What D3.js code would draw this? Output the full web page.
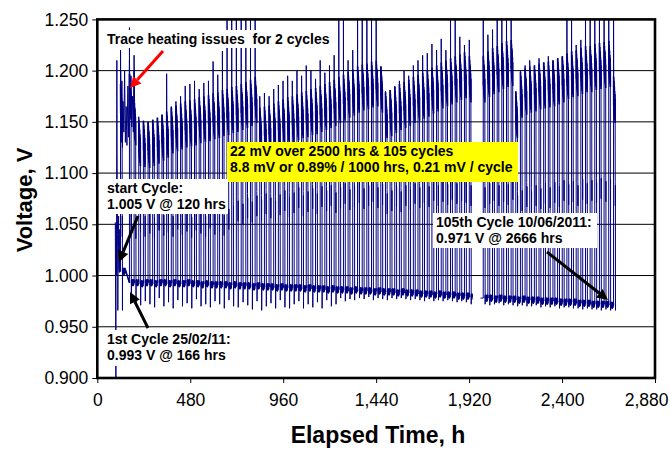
<!DOCTYPE html>
<html>
<head>
<meta charset="utf-8">
<script src="https://cdn.jsdelivr.net/npm/d3@7"></script>
<style>
  body { margin: 0; background: #fff; }
  svg { display: block; font-family: Arial, "Liberation Sans", sans-serif; }
</style>
</head>
<body>
<div id="chart"></div>
<script>
const width = 670, height = 449;

// axis ticks
const yTicks = [0.9, 0.95, 1.0, 1.05, 1.1, 1.15, 1.2, 1.25];
const xTicks = [0, 480, 960, 1440, 1920, 2400, 2880];

// trace before the first cycle (hours, volts)
const startTrace = [[93, 1.052], [95, 0.948], [96, 0.90], [97, 1.05], [99, 1.0], [101, 1.21],
  [102, 1.12], [104, 1.055], [105, 1.04], [106, 0.966], [108, 1.05], [109, 1.03], [110, 1.058],
  [111, 1.006], [114, 1.003], [116, 1.045], [117, 1.004], [118, 1.005]];

// erratic upper trace during the two cycles with trace-heating issues
const heatingTrace = [[121, 1.2], [124, 1.13], [127, 1.19], [130, 1.125], [133, 1.17], [137, 1.14],
  [141, 1.2], [145, 1.13], [149, 1.165], [153, 1.127], [158, 1.185], [162, 1.135], [166, 1.21],
  [170, 1.16], [174, 1.195], [178, 1.145], [182, 1.175], [186, 1.14], [190, 1.2], [193, 1.15], [196, 1.135]];

// one entry per daily cycle (cycles 75-76 fall in the data gap)
const cycleHours = [120, 166, 190, 214, 238, 262, 286, 310, 334, 358,
  382, 406, 430, 454, 478, 502, 526, 550, 574, 598,
  622, 646, 670, 694, 718, 743, 767, 791, 815, 839,
  863, 887, 911, 935, 959, 983, 1007, 1031, 1055, 1079,
  1103, 1127, 1151, 1175, 1199, 1223, 1247, 1271, 1295, 1319,
  1344, 1368, 1392, 1416, 1440, 1464, 1488, 1512, 1536, 1560,
  1584, 1608, 1632, 1656, 1680, 1704, 1728, 1752, 1776, 1800,
  1824, 1848, 1872, 1896, 1921,
  1993, 2017, 2041, 2065, 2089, 2113, 2137, 2161, 2185, 2209,
  2233, 2257, 2281, 2305, 2329, 2353, 2377, 2401, 2425, 2449,
  2473, 2497, 2521, 2545, 2569, 2593, 2617, 2641, 2666];

// upper plateau level of each cycle
const cycleHigh = [1.165, 1.175, 1.15, 1.13, 1.129, 1.128, 1.13, 1.132, 1.135, 1.138,
  1.142, 1.144, 1.146, 1.148, 1.149, 1.15, 1.152, 1.153, 1.154, 1.156,
  1.157, 1.159, 1.16, 1.162, 1.163, 1.165, 1.167, 1.169, 1.172, 1.142,
  1.143, 1.144, 1.146, 1.148, 1.15, 1.152, 1.153, 1.155, 1.157, 1.158,
  1.16, 1.161, 1.163, 1.165, 1.167, 1.169, 1.172, 1.174, 1.177, 1.179,
  1.182, 1.184, 1.185, 1.187, 1.188, 1.182, 1.157, 1.159, 1.162, 1.165,
  1.167, 1.169, 1.172, 1.174, 1.176, 1.178, 1.181, 1.183, 1.186, 1.188,
  1.19, 1.192, 1.194, 1.196, 1.192,
  1.192, 1.197, 1.2, 1.202, 1.205, 1.207, 1.208, 1.157, 1.177, 1.18,
  1.182, 1.183, 1.185, 1.186, 1.187, 1.188, 1.19, 1.192, 1.195, 1.197,
  1.198, 1.2, 1.202, 1.202, 1.204, 1.205, 1.206, 1.207, 1.172];

// spike reached when the cycle steps up (values above 1.25 run off the plot)
const cyclePeak = [1.22, 1.242, 1.215, 1.155, 1.15, 1.145, 1.148, 1.15, 1.155, 1.197,
  1.165, 1.17, 1.175, 1.185, 1.187, 1.19, 1.182, 1.188, 1.19, 1.209,
  1.196, 1.219, 1.27, 1.27, 1.27, 1.27, 1.27, 1.27, 1.27, 1.175,
  1.178, 1.175, 1.182, 1.186, 1.19, 1.195, 1.19, 1.2, 1.195, 1.205,
  1.2, 1.192, 1.21, 1.198, 1.205, 1.215, 1.27, 1.27, 1.21, 1.22,
  1.27, 1.27, 1.27, 1.27, 1.27, 1.204, 1.18, 1.178, 1.185, 1.19,
  1.2, 1.195, 1.205, 1.21, 1.215, 1.217, 1.226, 1.22, 1.231, 1.22,
  1.27, 1.27, 1.233, 1.225, 1.23,
  1.27, 1.235, 1.24, 1.27, 1.27, 1.27, 1.27, 1.18, 1.2, 1.205,
  1.21, 1.2, 1.212, 1.205, 1.214, 1.21, 1.208, 1.212, 1.27, 1.27,
  1.225, 1.23, 1.27, 1.27, 1.27, 1.27, 1.27, 1.27, 1.27];

// short hold part-way down after the upper plateau
const cycleMid = [1.05, 1.052, 1.048, 1.055, 1.05, 1.053, 1.049, 1.056, 1.051, 1.054,
  1.05, 1.057, 1.052, 1.055, 1.049, 1.056, 1.053, 1.05, 1.058, 1.052,
  1.055, 1.051, 1.057, 1.06, 1.065, 1.062, 1.068, 1.064, 1.07, 1.066,
  1.072, 1.068, 1.065, 1.071, 1.075, 1.069, 1.073, 1.078, 1.07, 1.074,
  1.077, 1.072, 1.079, 1.075, 1.08, 1.073, 1.078, 1.082, 1.076, 1.079,
  1.083, 1.077, 1.08, 1.084, 1.078, 1.081, 1.072, 1.075, 1.079, 1.074,
  1.08, 1.076, 1.082, 1.078, 1.083, 1.079, 1.085, 1.08, 1.084, 1.081,
  1.086, 1.082, 1.085, 1.083, 1.08,
  1.078, 1.082, 1.085, 1.08, 1.084, 1.081, 1.086, 1.07, 1.075, 1.079,
  1.074, 1.08, 1.077, 1.082, 1.078, 1.083, 1.079, 1.085, 1.081, 1.084,
  1.08, 1.086, 1.082, 1.085, 1.083, 1.087, 1.084, 1.086, 1.08];

// lower (base) level of each cycle
const cycleLow = [1.004, 0.993, 0.993, 0.992, 0.993, 0.993, 0.992, 0.993, 0.993, 0.992,
  0.993, 0.992, 0.992, 0.993, 0.992, 0.992, 0.991, 0.992, 0.991, 0.991,
  0.991, 0.991, 0.990, 0.991, 0.990, 0.990, 0.990, 0.989, 0.990, 0.989,
  0.989, 0.989, 0.988, 0.989, 0.988, 0.988, 0.988, 0.988, 0.987, 0.988,
  0.987, 0.987, 0.987, 0.986, 0.987, 0.986, 0.986, 0.986, 0.985, 0.986,
  0.985, 0.985, 0.985, 0.984, 0.985, 0.984, 0.984, 0.984, 0.983, 0.984,
  0.983, 0.983, 0.983, 0.982, 0.982, 0.982, 0.981, 0.982, 0.981, 0.981,
  0.981, 0.980, 0.980, 0.980, 0.979,
  0.978, 0.978, 0.977, 0.978, 0.977, 0.977, 0.977, 0.976, 0.977, 0.976,
  0.976, 0.976, 0.975, 0.975, 0.975, 0.975, 0.974, 0.974, 0.974, 0.974,
  0.973, 0.973, 0.973, 0.972, 0.972, 0.972, 0.972, 0.971, 0.971];

// short dip after the step down
const cycleDip = [0.966, 0.98, 0.972, 0.971, 0.975, 0.972, 0.969, 0.978, 0.97, 0.974,
  0.968, 0.976, 0.97, 0.973, 0.968, 0.977, 0.97, 0.972, 0.969, 0.975,
  0.972, 0.968, 0.976, 0.97, 0.969, 0.974, 0.971, 0.967, 0.975, 0.966,
  0.97, 0.973, 0.968, 0.976, 0.969, 0.968, 0.972, 0.975, 0.968, 0.972,
  0.969, 0.974, 0.968, 0.976, 0.97, 0.972, 0.978, 0.975, 0.977, 0.976,
  0.978, 0.977, 0.979, 0.976, 0.978, 0.977, 0.976, 0.978, 0.977, 0.978,
  0.977, 0.976, 0.977, 0.976, 0.975, 0.977, 0.975, 0.976, 0.975, 0.976,
  0.975, 0.974, 0.975, 0.974, 0.972,
  0.972, 0.971, 0.972, 0.973, 0.971, 0.972, 0.971, 0.97, 0.971, 0.97,
  0.97, 0.971, 0.969, 0.97, 0.969, 0.97, 0.968, 0.969, 0.969, 0.968,
  0.968, 0.967, 0.968, 0.967, 0.967, 0.966, 0.967, 0.966, 0.966];

// typical ripple on the upper plateau, the hold and the base line: [hours after step, volts]
const upperRipple = [[0.5, 0.022], [1.1, -0.006], [1.7, 0.018], [2.3, -0.01], [2.9, 0.014],
  [3.5, -0.014], [4.1, 0.012], [4.7, -0.016], [5.3, 0.008], [5.9, -0.018], [6.5, 0.005],
  [7.1, -0.02], [7.7, 0.0], [8.3, -0.023]];
const midRipple = [[8.7, 0.012], [9.1, -0.012], [9.5, 0.008]];
const lowerRipple = [[11, 0.0025], [12.5, -0.002], [14, 0.003], [15.5, -0.0025], [17, 0.002],
  [18.5, -0.003], [20, 0.0025], [21.5, -0.002], [23, 0.003]];
const stepDown = 9.9;
const dataGap = [1936, 1979];
const traceEnd = 2672;

const x = d3.scaleLinear().domain([0, 2880]).range([97.3, 655]);
const y = d3.scaleLinear().domain([0.9, 1.25]).range([378, 19.4]);

// assemble the trace; keep the plateau and base parts apart so they can be drawn heavier
const trace = startTrace.map(([t, v]) => ({t, v}));
const upperParts = [], lowerParts = [];
cycleHours.forEach((t, i) => {
  const low = cycleLow[i], high = cycleHigh[i], mid = cycleMid[i];
  const upper = upperRipple.map(([dt, dv]) => ({t: t + dt, v: high + dv}));
  trace.push({t, v: low}, {t, v: cyclePeak[i]}, ...upper);
  upperParts.push(upper);
  midRipple.forEach(([dt, dv]) => trace.push({t: t + dt, v: mid + dv}));
  trace.push({t: t + stepDown, v: cycleDip[i]});
  const next = i + 1 < cycleHours.length ? cycleHours[i + 1] : traceEnd;
  const gapHere = t < dataGap[0] && next > dataGap[0];
  const stop = gapHere ? dataGap[0] : next;
  const lower = [{t: t + stepDown + 0.5, v: low}];
  lowerRipple.forEach(([dt, dv]) => { if (t + dt < stop) lower.push({t: t + dt, v: low + dv}); });
  if (gapHere) lower.push({t: stop, v: low});
  else if (i + 1 < cycleHours.length) lower.push({t: next, v: cycleLow[i + 1]});
  trace.push(...lower);
  lowerParts.push(lower);
  if (gapHere) trace.push(null, {t: dataGap[1], v: cycleLow[i + 1]});
});

const svg = d3.select("#chart").append("svg")
    .attr("width", width)
    .attr("height", height);

svg.append("rect").attr("width", width).attr("height", height).attr("fill", "#fff");

svg.append("clipPath").attr("id", "plot")
  .append("rect")
    .attr("x", x(0)).attr("y", y(1.25))
    .attr("width", x(2880) - x(0)).attr("height", y(0.9) - y(1.25));

// gridlines
svg.append("g")
  .selectAll("line")
  .data(yTicks.slice(1, -1))
  .join("line")
    .attr("x1", x(0)).attr("x2", x(2880))
    .attr("y1", y).attr("y2", y)
    .attr("stroke", "#000")
    .attr("stroke-width", 1);

// voltage trace
const line = d3.line().defined(d => d !== null).x(d => x(d.t)).y(d => y(d.v));
const traceG = svg.append("g")
    .attr("clip-path", "url(#plot)")
    .attr("fill", "none")
    .attr("stroke", "#000080")
    .attr("stroke-linejoin", "round");

traceG.append("path").attr("stroke-width", 1).attr("d", line(trace));
traceG.append("path").attr("stroke-width", 1).attr("d", line(heatingTrace.map(([t, v]) => ({t, v}))));
traceG.append("g").attr("stroke-width", 1.7)
  .selectAll("path").data(upperParts).join("path").attr("d", line);
traceG.append("g").attr("stroke-width", 1.5)
  .selectAll("path").data(lowerParts).join("path").attr("d", line);

// axes
svg.append("g")
    .attr("transform", `translate(0,${y(0.9)})`)
    .call(d3.axisBottom(x).tickValues(xTicks).tickFormat(d3.format(",")).tickSize(5).tickPadding(11))
    .call(g => g.select(".domain").remove())
    .call(g => g.selectAll("text").attr("font-size", 17.5).attr("fill", "#000").attr("font-family", "Arial, 'Liberation Sans', sans-serif"))
    .call(g => g.selectAll(".tick:last-of-type text").attr("text-anchor", "end").attr("x", 13));

svg.append("g")
    .attr("transform", `translate(${x(0)},0)`)
    .call(d3.axisLeft(y).tickValues(yTicks).tickFormat(d3.format(".3f")).tickSize(5).tickPadding(4))
    .call(g => g.select(".domain").remove())
    .call(g => g.selectAll("text").attr("font-size", 17.5).attr("fill", "#000").attr("font-family", "Arial, 'Liberation Sans', sans-serif"));

// frame
svg.append("rect")
    .attr("x", x(0)).attr("y", y(1.25))
    .attr("width", x(2880) - x(0)).attr("height", y(0.9) - y(1.25))
    .attr("fill", "none").attr("stroke", "#000").attr("stroke-width", 2.6);

// axis titles
svg.append("text")
    .attr("x", 378).attr("y", 443)
    .attr("text-anchor", "middle")
    .attr("font-size", 23).attr("font-weight", "bold")
    .text("Elapsed Time, h");

svg.append("text")
    .attr("transform", "translate(32,200) rotate(-90)")
    .attr("text-anchor", "middle")
    .attr("font-size", 22).attr("font-weight", "bold")
    .text("Voltage, V");

// annotations
const notes = [
  {x: 104, y: 30, w: 229, h: 18, fill: "#fff", lines: ["Trace heating issues  for 2 cycles"]},
  {x: 227, y: 142, w: 291, h: 40, fill: "#ffff00", lines: ["22 mV over 2500 hrs & 105 cycles", "8.8 mV or 0.89% / 1000 hrs, 0.21 mV / cycle"]},
  {x: 104, y: 179, w: 124, h: 35, fill: "#fff", lines: ["start Cycle:", "1.005 V @ 120 hrs"]},
  {x: 104, y: 330, w: 144, h: 36, fill: "#fff", lines: ["1st Cycle 25/02/11:", "0.993 V @ 166 hrs"]},
  {x: 433, y: 213, w: 164, h: 35, fill: "#fff", lines: ["105th Cycle 10/06/2011:", "0.971 V @ 2666 hrs"]}
];

const note = svg.append("g")
  .selectAll("g")
  .data(notes)
  .join("g");

note.append("rect")
    .attr("x", d => d.x).attr("y", d => d.y)
    .attr("width", d => d.w).attr("height", d => d.h)
    .attr("fill", d => d.fill);

note.append("text")
    .attr("font-size", 14).attr("font-weight", "bold")
    .style("white-space", "pre")
  .selectAll("tspan")
  .data(d => d.lines.map((s, i) => ({s, i, d})))
  .join("tspan")
    .attr("x", o => o.d.x + 3)
    .attr("y", o => o.d.y + 14 + o.i * 15.5)
    .text(o => o.s);

// arrows
const arrows = [
  {from: [163, 51], to: [130, 88], color: "#ff0000"},
  {from: [138, 216], to: [119, 262], color: "#000"},
  {from: [148, 328], to: [130, 292], color: "#000"},
  {from: [547, 252], to: [608, 300], color: "#000"}
];

arrows.forEach(a => {
  const [x1, y1] = a.from, [x2, y2] = a.to;
  const ang = Math.atan2(y2 - y1, x2 - x1);
  const len = 11, half = 5.5;
  const bx = x2 - len * Math.cos(ang), by = y2 - len * Math.sin(ang);
  svg.append("line")
      .attr("x1", x1).attr("y1", y1).attr("x2", bx).attr("y2", by)
      .attr("stroke", a.color).attr("stroke-width", 3);
  svg.append("path")
      .attr("fill", a.color)
      .attr("d", `M${x2},${y2}L${bx + half * Math.sin(ang)},${by - half * Math.cos(ang)}L${bx - half * Math.sin(ang)},${by + half * Math.cos(ang)}Z`);
});
</script>
</body>
</html>
